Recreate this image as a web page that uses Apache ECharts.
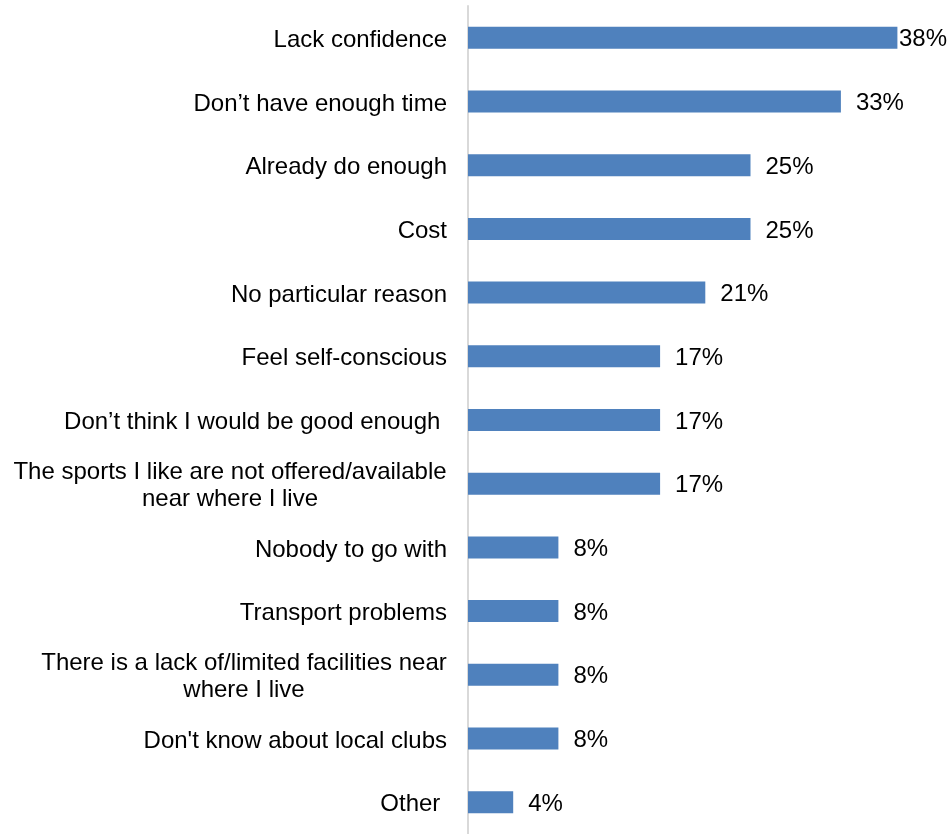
<!DOCTYPE html>
<html>
<head>
<meta charset="utf-8">
<script src="https://cdn.jsdelivr.net/npm/echarts@6/dist/echarts.min.js"></script>
<style>
  html, body { margin: 0; padding: 0; background: #fff; }
  #chart { width: 952px; height: 834px; }
</style>
</head>
<body>
<div id="chart"></div>
<script>
// Reasons given, top to bottom
const reasons = [
  'Lack confidence',
  'Don\u2019t have enough time',
  'Already do enough',
  'Cost',
  'No particular reason',
  'Feel self-conscious',
  'Don\u2019t think I would be good enough ',
  'The sports I like are not offered/available\nnear where I live',
  'Nobody to go with',
  'Transport problems',
  'There is a lack of/limited facilities near\nwhere I live',
  'Don\'t know about local clubs',
  'Other '
];
// Share of respondents (%)
const shares = [38, 33, 25, 25, 21, 17, 17, 17, 8, 8, 8, 8, 4];

const FONT = '"Liberation Sans", Arial, sans-serif';
const FONT_SIZE = 24;
const LINE_H = 27;

// Measure text so multi-line labels can be centred line by line
const measureCtx = document.createElement('canvas').getContext('2d');
measureCtx.font = FONT_SIZE + 'px ' + FONT;
function textWidth(s) { return Math.ceil(measureCtx.measureText(s).width); }

const rich = {};
const labelKeys = reasons.map((r, i) => {
  if (r.indexOf('\n') < 0) return null;
  const w = Math.max.apply(null, r.split('\n').map(textWidth));
  const key = 'm' + i;
  rich[key] = { width: w, align: 'center', fontSize: FONT_SIZE, fontFamily: FONT, color: '#000', lineHeight: LINE_H };
  return key;
});

const chart = echarts.init(document.getElementById('chart'));
const W = 952;

chart.setOption({
  animation: false,
  grid: { left: 468, top: 6, height: 832, width: 452, containLabel: false },
  xAxis: {
    type: 'value', min: 0, max: 40,
    show: false
  },
  yAxis: {
    type: 'category',
    data: reasons,
    inverse: true,
    axisLine: { show: true, lineStyle: { color: '#d9d9d9', width: 2 } },
    axisTick: { show: false },
    axisLabel: {
      margin: 21,
      padding: [5, 0, 0, 0],
      fontSize: FONT_SIZE,
      fontFamily: FONT,
      color: '#000',
      lineHeight: LINE_H,
      rich: rich,
      formatter: function (value, idx) {
        const key = labelKeys[idx];
        if (!key) return value;
        return value.split('\n').map(l => '{' + key + '|' + l + '}').join('\n');
      }
    }
  },
  series: [{
    type: 'bar',
    data: shares,
    barWidth: 22,
    itemStyle: { color: '#4f81bd' },
    label: {
      show: true,
      position: 'right',
      distance: 15,
      fontSize: FONT_SIZE,
      fontFamily: FONT,
      color: '#000',
      formatter: '{c}%'
    },
    // nudge value labels onto the bar centre line and keep them inside the drawing area
    labelLayout: function (params) {
      const r = params.labelRect;
      const limit = W - 5;
      const out = { dy: 2 };
      if (r.x + r.width > limit) {
        out.dx = limit - (r.x + r.width);
      }
      return out;
    }
  }]
});
</script>
</body>
</html>
